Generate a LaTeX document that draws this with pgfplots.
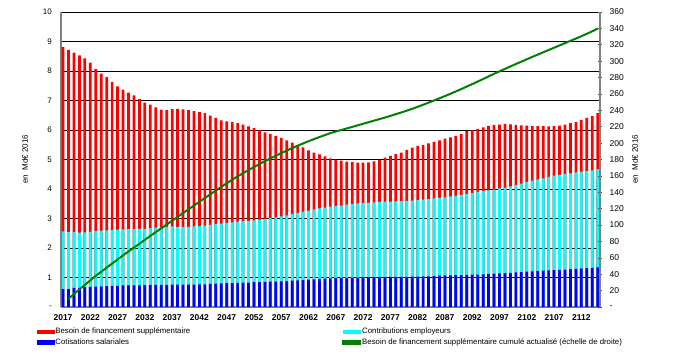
\documentclass[border=0pt]{standalone}
\usepackage{fontspec}
\setmainfont{Liberation Sans}
\usepackage{pgfplots}
\usepackage{pgfplotstable}
\pgfplotsset{compat=1.18}
\definecolor{cred}{RGB}{255,0,0}
\definecolor{ccyan}{RGB}{0,255,255}
\definecolor{cblue}{RGB}{0,0,255}
\definecolor{cgreen}{RGB}{0,128,0}
\definecolor{axgray}{RGB}{128,128,128}

% total = top of red bar, top = top of cyan bar, blue = top of blue bar (Md EUR 2016), cum = right scale
\pgfplotstableread{
year total top blue cum
2017 8.81 2.56 0.61 nan
2018 8.72 2.54 0.61 10
2019 8.62 2.54 0.65 15.8
2020 8.53 2.52 0.65 21.5
2021 8.43 2.53 0.67 27
2022 8.28 2.55 0.68 32.5
2023 8.07 2.57 0.69 38
2024 7.91 2.59 0.70 43
2025 7.79 2.60 0.71 48
2026 7.62 2.61 0.72 53
2027 7.48 2.62 0.72 58
2028 7.37 2.63 0.73 63
2029 7.27 2.64 0.73 67.8
2030 7.17 2.64 0.73 72.5
2031 7.05 2.65 0.73 77.2
2032 6.93 2.65 0.74 82
2033 6.86 2.67 0.75 86.7
2034 6.77 2.69 0.75 91.4
2035 6.69 2.70 0.75 96
2036 6.67 2.72 0.75 100.7
2037 6.71 2.73 0.76 105.3
2038 6.72 2.72 0.76 110
2039 6.70 2.72 0.76 114.6
2040 6.67 2.72 0.76 119.2
2041 6.64 2.73 0.76 123.8
2042 6.61 2.74 0.77 128.4
2043 6.57 2.76 0.77 133
2044 6.49 2.78 0.78 137.5
2045 6.41 2.81 0.79 142
2046 6.33 2.83 0.80 146.5
2047 6.29 2.85 0.81 151
2048 6.27 2.87 0.81 155.3
2049 6.23 2.89 0.82 159.4
2050 6.18 2.91 0.83 163.3
2051 6.12 2.92 0.83 167.1
2052 6.06 2.94 0.84 170.8
2053 6.00 2.96 0.84 174.4
2054 5.92 2.98 0.85 177.9
2055 5.86 3.01 0.86 181.3
2056 5.80 3.04 0.86 184.6
2057 5.73 3.07 0.87 187.8
2058 5.65 3.11 0.88 190.9
2059 5.57 3.15 0.89 193.9
2060 5.49 3.19 0.90 196.8
2061 5.41 3.23 0.91 199.6
2062 5.31 3.27 0.93 202.3
2063 5.23 3.31 0.94 204.9
2064 5.17 3.34 0.95 207.4
2065 5.11 3.37 0.96 209.8
2066 5.04 3.40 0.97 212.2
2067 5.00 3.42 0.98 214.2
2068 4.96 3.44 0.99 216
2069 4.93 3.47 0.99 217.9
2070 4.91 3.49 1.00 219.8
2071 4.89 3.51 1.00 221.7
2072 4.89 3.53 1.01 223.6
2073 4.90 3.54 1.01 225.5
2074 4.94 3.55 1.01 227.4
2075 4.99 3.56 1.01 229.3
2076 5.06 3.57 1.01 231.2
2077 5.12 3.57 1.02 233.2
2078 5.18 3.58 1.02 235.3
2079 5.23 3.59 1.02 237.4
2080 5.32 3.60 1.02 239.6
2081 5.40 3.61 1.03 241.9
2082 5.46 3.62 1.03 244.3
2083 5.49 3.64 1.04 246.8
2084 5.55 3.66 1.04 249.4
2085 5.60 3.68 1.05 252
2086 5.65 3.70 1.06 254.7
2087 5.71 3.72 1.07 257.4
2088 5.75 3.75 1.07 260.2
2089 5.80 3.77 1.08 263.1
2090 5.86 3.80 1.08 266
2091 5.96 3.83 1.09 269
2092 6.00 3.86 1.10 272
2093 6.04 3.90 1.10 275.1
2094 6.09 3.93 1.11 278.2
2095 6.14 3.95 1.12 281.4
2096 6.17 3.98 1.13 284.6
2097 6.18 4.02 1.14 287.6
2098 6.21 4.05 1.15 290.6
2099 6.19 4.09 1.16 293.6
2100 6.17 4.13 1.17 296.5
2101 6.16 4.18 1.18 299.4
2102 6.15 4.24 1.20 302.3
2103 6.14 4.28 1.21 305.2
2104 6.13 4.33 1.22 308
2105 6.13 4.36 1.23 310.8
2106 6.12 4.41 1.24 313.6
2107 6.13 4.45 1.25 316.4
2108 6.15 4.48 1.26 319.2
2109 6.18 4.51 1.27 322
2110 6.23 4.53 1.28 324.8
2111 6.27 4.56 1.29 327.6
2112 6.34 4.59 1.31 330.4
2113 6.41 4.61 1.32 333.4
2114 6.47 4.63 1.33 336.5
2115 6.57 4.67 1.34 339.7
}\data

\begin{document}
\begin{tikzpicture}
\useasboundingbox (-61pt,-50pt) rectangle (614pt,307pt);
\begin{axis}[
  at={(0pt,0pt)}, anchor=south west,
  width=539pt, height=295pt, scale only axis,
  xmin=2016.63, xmax=2115.42,
  ymin=0, ymax=10,
  axis x line*=bottom, axis y line*=left,
  axis line style={draw=axgray, line width=1.3pt, -},
  xtick={2017,2022,...,2112},
  ytick={0,1,...,10},
  yticklabels={-,1,2,3,4,5,6,7,8,9,10},
  major tick length=0pt,
  ymajorgrids, major grid style={black, line width=0.7pt},
  /pgf/number format/1000 sep={},
  /pgf/number format/assume math mode=true,
  xticklabel style={font=\fontsize{8.5}{10}\selectfont\bfseries, inner sep=0pt, anchor=north, yshift=-7pt},
  yticklabel style={font=\fontsize{8}{10}\selectfont, inner sep=0pt, anchor=east, xshift=-9pt},
  ylabel={en\ \ Md€ 2016},
  ylabel style={font=\fontsize{8}{10}\selectfont, at={(axis description cs:-0.0668,0.5)}, anchor=center},
]
\addplot[ybar, bar width=0.5, bar shift=0pt, fill=cred, draw=none] table[x=year, y=total]{\data};
\addplot[ybar, bar width=0.5, bar shift=0pt, fill=ccyan, draw=none] table[x=year, y=top]{\data};
\addplot[ybar, bar width=0.5, bar shift=0pt, fill=cblue, draw=none] table[x=year, y=blue]{\data};
\end{axis}
\begin{axis}[
  at={(0pt,0pt)}, anchor=south west,
  width=539pt, height=295pt, scale only axis,
  xmin=2016.63, xmax=2115.42,
  ymin=0, ymax=360,
  axis y line*=right, axis x line=none,
  axis line style={draw=axgray, line width=1.3pt, -},
  ytick={0,20,...,360},
  yticklabels={-,20,40,60,80,100,120,140,160,180,200,220,240,260,280,300,320,340,360},
  major tick length=3.5pt, tick align=center,
  tick style={draw=black!70, line width=0.6pt},
  yticklabel style={font=\fontsize{8.5}{10}\selectfont, inner sep=0pt, anchor=west, xshift=7.7pt},
  ylabel={en\ \ Md€ 2016},
  ylabel style={font=\fontsize{8}{10}\selectfont, at={(axis description cs:1.065,0.5)}, anchor=center, rotate=0},
  legend columns=2,
  legend cell align=left,
  legend style={at={(axis description cs:0,0)}, anchor=north west, xshift=-24pt, yshift=-20pt,
    draw=none, fill=none, inner sep=0pt, outer sep=0pt, row sep=1.5pt,
    font=\fontsize{7.8}{9}\selectfont,
    nodes={inner sep=1pt},
    /tikz/every odd column/.append style={column sep=0pt},
    /tikz/every even column/.append style={column sep=151pt}},
]
\addlegendimage{legend image code/.code={\fill[cred] (0pt,-1.8pt) rectangle (17pt,1.8pt);}}
\addlegendimage{legend image code/.code={\fill[ccyan] (0pt,-1.8pt) rectangle (17pt,1.8pt);}}
\addlegendimage{legend image code/.code={\fill[cblue] (0pt,-1.8pt) rectangle (17pt,1.8pt);}}
\addplot[cgreen, line width=2pt, legend image code/.code={\fill[cgreen] (0pt,-1.3pt) rectangle (17pt,1.3pt);}] table[x=year, y=cum]{\data};
\legend{Besoin de financement supplémentaire, Contributions employeurs, Cotisations salariales, Besoin de financement supplémentaire cumulé actualisé (échelle de droite)}
\end{axis}
\end{tikzpicture}
\end{document}
